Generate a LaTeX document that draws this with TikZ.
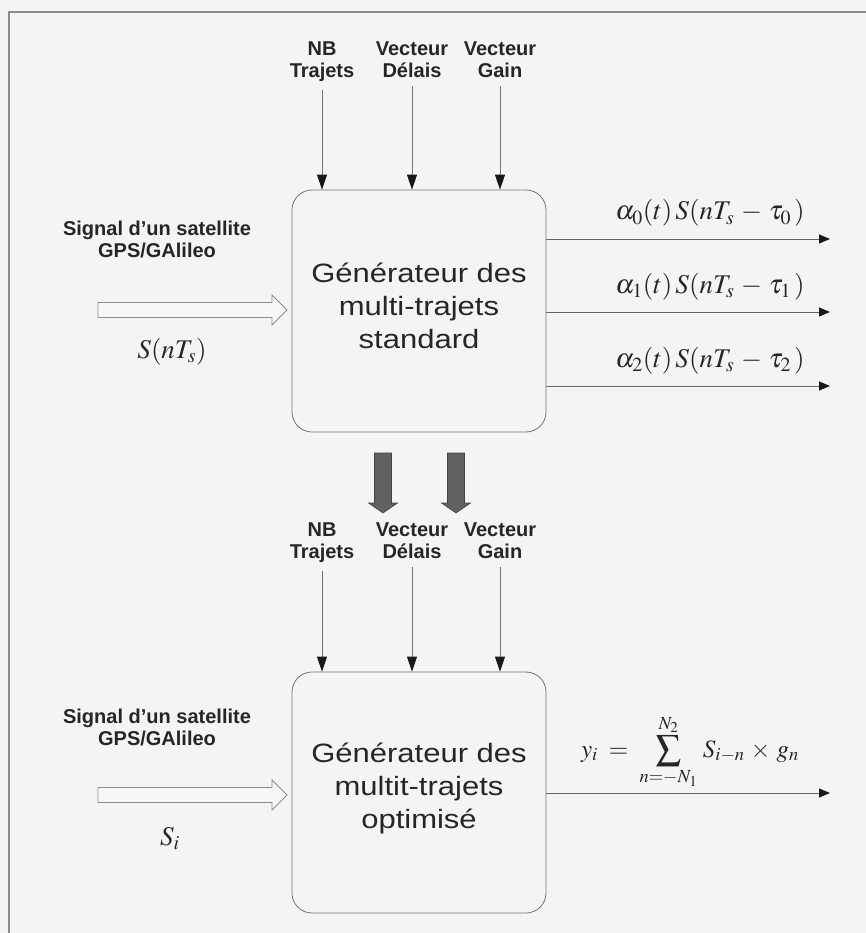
\documentclass[tikz,border=0pt]{standalone}
\usepackage{mathptmx}
\usepackage{fontspec}
\setmainfont{Liberation Sans}
\newfontfamily\boxfont[FakeStretch=1.17]{Liberation Sans}
\usetikzlibrary{arrows.meta}
\definecolor{bgcol}{HTML}{F4F4F4}
\definecolor{txtcol}{HTML}{262626}
\tikzset{
  genbox/.style={draw=black!55, line width=0.8pt, rounded corners=20pt, minimum width=254pt, inner sep=0pt},
  boxtext/.style={align=center, text=txtcol, inner sep=0pt, font=\boxfont\fontsize{26.5}{33}\selectfont},
  inlab/.style={align=center, text=txtcol, inner sep=0pt, font=\bfseries\fontsize{20}{22}\selectfont},
  inarrow/.style={draw=black!55, line width=0.9pt, -{Triangle[length=15pt,width=10pt,color=black!90,fill=black!90]}},
  outarrow/.style={draw=black!60, line width=1pt, -{Triangle[length=11pt,width=9pt,color=black!90,fill=black!90]}},
  mathlab/.style={text=txtcol, inner sep=0pt, font=\fontsize{27}{30}\selectfont},
  hollowstyle/.style={draw=black!45, fill=white!97!black, line width=0.9pt},
  thickstyle/.style={draw=black!75, fill=black!62, line width=0.6pt},
  hollowarrow/.pic={\path[hollowstyle] (-94.5,-7.5) -- (79.5,-7.5) -- (79.5,-15) -- (94.5,0) -- (79.5,15) -- (79.5,7.5) -- (-94.5,7.5) -- cycle;},
  thickarrow/.pic={\path[thickstyle] (-8.5,0) -- (8.5,0) -- (8.5,50) -- (14.5,50) -- (0,60) -- (-14.5,50) -- (-8.5,50) -- cycle;},
}
\begin{document}
\begin{tikzpicture}[x=1pt,y=-1pt]
\useasboundingbox (0,0) rectangle (866,933);
\fill[bgcol] (0,0) rectangle (866,933);
\draw[black!45, line width=1.6pt] (9,933) -- (9,12) -- (866,12);

% ---------- upper block ----------
\node[genbox, minimum height=242pt] (g1) at (419,311) {};
\node[boxtext] (t1) at (419,306) {Générateur des\\multi-trajets\\standard};

\node[inlab, anchor=base] (nb1) at (322,78) {NB\\Trajets};
\node[inlab, anchor=base] (vd1) at (412,78) {Vecteur\\Délais};
\node[inlab, anchor=base] (vg1) at (500,78) {Vecteur\\Gain};
\draw[inarrow] (nb1.south) ++(0,8) -- (nb1.south |- g1.north);
\draw[inarrow] (vd1.south) ++(0,8) -- (vd1.south |- g1.north);
\draw[inarrow] (vg1.south) ++(0,8) -- (vg1.south |- g1.north);

\node[inlab, anchor=base] (sig1) at (157,257) {Signal d'un satellite\\GPS/GAlileo};
\pic at (192.5,310) {hollowarrow};
\node[mathlab, anchor=base] (s1) at (172,358) {$S(nT_s)$};

\coordinate (o10) at (830,239);
\coordinate (o11) at (830,312);
\coordinate (o12) at (830,386);
\draw[outarrow] (g1.east |- o10) -- (o10);
\draw[outarrow] (g1.east |- o11) -- (o11);
\draw[outarrow] (g1.east |- o12) -- (o12);
\node[mathlab, anchor=base] (l0) at (710,220) {$\alpha_0(t)\,S(nT_s\,-\,\tau_0\,)$};
\node[mathlab, anchor=base] (l1) at (710,293) {$\alpha_1(t)\,S(nT_s\,-\,\tau_1\,)$};
\node[mathlab, anchor=base] (l2) at (710,367) {$\alpha_2(t)\,S(nT_s\,-\,\tau_2\,)$};

% ---------- transition arrows ----------
\pic at (383,453) {thickarrow};
\pic at (456,453) {thickarrow};

% ---------- lower block ----------
\node[genbox, minimum height=241pt] (g2) at (419,792.5) {};
\node[boxtext] (t2) at (419,788) {Générateur des\\multit-trajets\\optimisé};

\node[inlab, anchor=base] (nb2) at (322,558) {NB\\Trajets};
\node[inlab, anchor=base] (vd2) at (412,558) {Vecteur\\Délais};
\node[inlab, anchor=base] (vg2) at (500,558) {Vecteur\\Gain};
\draw[inarrow] (nb2.south) ++(0,9) -- (nb2.south |- g2.north);
\draw[inarrow] (vd2.south) ++(0,9) -- (vd2.south |- g2.north);
\draw[inarrow] (vg2.south) ++(0,9) -- (vg2.south |- g2.north);

\node[inlab, anchor=base] (sig2) at (157,745) {Signal d'un satellite\\GPS/GAlileo};
\pic at (192.5,795) {hollowarrow};
\node[mathlab, anchor=base] (s2) at (170,845) {$S_i$};

\coordinate (o20) at (830,793);
\draw[outarrow] (g2.east |- o20) -- (o20);
\node[text=txtcol, inner sep=0pt, font=\fontsize{25}{28}\selectfont, anchor=south] (l3) at (690,789) {$\displaystyle y_i\;=\;\sum_{n=-N_1}^{N_2}\, S_{i-n}\,\times\,g_n$};
\end{tikzpicture}
\end{document}
